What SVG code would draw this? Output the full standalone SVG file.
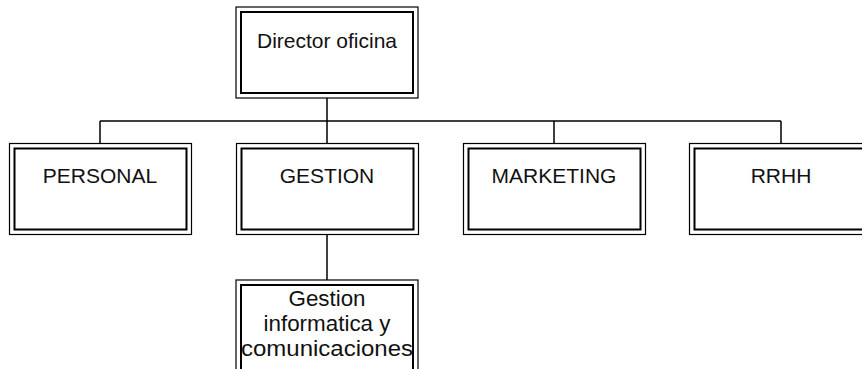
<svg xmlns="http://www.w3.org/2000/svg" width="862" height="369" viewBox="0 0 862 369">
  <style>
    .outer { fill: none; stroke: #000; stroke-width: 1.2; }
    .inner { fill: none; stroke: #000; stroke-width: 2; }
    .label { font-family: "Liberation Sans", Arial, sans-serif; font-size: 21px; fill: #111; text-anchor: middle; }
    .sub { font-size: 22px; }
    .wire { fill: none; stroke: #000; stroke-width: 1.5; }
  </style>
  <rect width="862" height="369" fill="#fff"/>

  <!-- connectors -->
  <g id="connectors">
    <path class="wire" d="M327 98 V121 M100 121 H781 M100 121 V143 M327 121 V143 M554 121 V143 M781 121 V143"/>
    <path class="wire" d="M327 234 V280"/>
  </g>

  <g id="director">
    <rect class="outer" x="236" y="7" width="182" height="91"/>
    <rect class="inner" x="241" y="12" width="172" height="81"/>
    <text class="label" x="327" y="48" textLength="140" lengthAdjust="spacingAndGlyphs">Director oficina</text>
  </g>

  <g id="personal">
    <rect class="outer" x="9.5" y="143.5" width="182" height="91"/>
    <rect class="inner" x="14.5" y="148.5" width="172" height="81"/>
    <text class="label" x="100" y="183">PERSONAL</text>
  </g>

  <g id="gestion">
    <rect class="outer" x="236.5" y="143.5" width="182" height="91"/>
    <rect class="inner" x="241.5" y="148.5" width="172" height="81"/>
    <text class="label" x="327" y="183">GESTION</text>
  </g>

  <g id="marketing">
    <rect class="outer" x="463.5" y="143.5" width="182" height="91"/>
    <rect class="inner" x="468.5" y="148.5" width="172" height="81"/>
    <text class="label" x="554" y="183">MARKETING</text>
  </g>

  <g id="rrhh">
    <rect class="outer" x="689.5" y="143.5" width="182" height="91"/>
    <rect class="inner" x="694.5" y="148.5" width="172" height="81"/>
    <text class="label" x="781" y="183">RRHH</text>
  </g>

  <g id="gestion-informatica">
    <rect class="outer" x="236" y="280" width="182" height="100"/>
    <rect class="inner" x="241" y="285" width="172" height="100"/>
    <text class="label sub" x="327" y="306" textLength="77" lengthAdjust="spacingAndGlyphs">Gestion</text>
    <text class="label sub" x="327" y="331" textLength="127" lengthAdjust="spacingAndGlyphs">informatica y</text>
    <text class="label sub" x="327" y="356" textLength="172" lengthAdjust="spacingAndGlyphs">comunicaciones</text>
  </g>
</svg>
